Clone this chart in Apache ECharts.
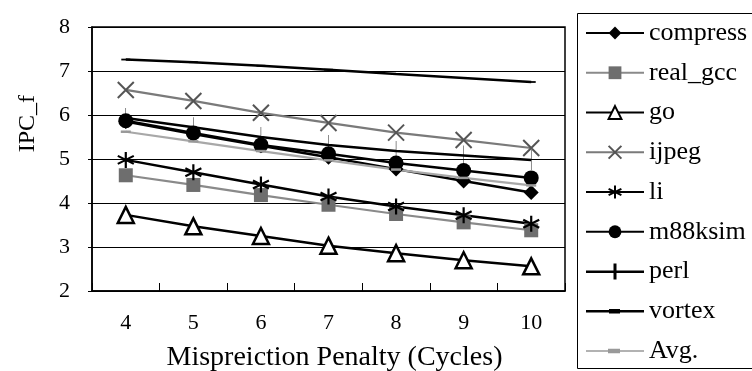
<!DOCTYPE html>
<html>
<head>
<meta charset="utf-8">
<script src="https://cdn.jsdelivr.net/npm/echarts@6/dist/echarts.min.js"></script>
<style>html,body{margin:0;padding:0;background:#fff}#c{width:752px;height:371px}</style>
</head>
<body>
<div id="c"></div>
<script>
var categories = ['4','5','6','7','8','9','10'];
var compress = [5.85, 5.57, 5.30, 5.04, 4.77, 4.50, 4.24];
var real_gcc = [4.63, 4.41, 4.18, 3.96, 3.75, 3.56, 3.38];
var go = [3.73, 3.47, 3.25, 3.03, 2.86, 2.70, 2.56];
var ijpeg = [6.57, 6.32, 6.05, 5.82, 5.60, 5.43, 5.25];
var li = [4.98, 4.70, 4.42, 4.15, 3.92, 3.72, 3.53];
var m88ksim = [5.87, 5.59, 5.32, 5.12, 4.91, 4.74, 4.57];
var perl = [5.93, 5.72, 5.50, 5.32, 5.18, 5.08, 4.98];
var vortex = [7.26, 7.20, 7.12, 7.03, 6.93, 6.84, 6.75];
var avg = [5.62, 5.40, 5.18, 4.97, 4.76, 4.57, 4.40];
var seriesNames = ['compress','real_gcc','go','ijpeg','li','m88ksim','perl','vortex','Avg.'];
var yTicks = [2,3,4,5,6,7,8];

var FONT = 'Liberation Serif';
var chart = echarts.init(document.getElementById('c'), null, {renderer:'canvas'});

function s(name, data, lineColor, lineWidth, symbol, size, item, extra){
  var o = {
    name: name, type: 'line', data: data,
    symbol: symbol, symbolSize: size,
    lineStyle: {color: lineColor, width: lineWidth},
    itemStyle: item,
    emphasis: {disabled: true},
    animation: false
  };
  if (extra) for (var k in extra) o[k] = extra[k];
  return o;
}

var legendData = seriesNames.map(function(n){
  if (n === 'perl') return {name: n, icon: 'path://M0 7L58 7L58 9.5L0 9.5ZM27.5 0L30.5 0L30.5 16L27.5 16Z'};
  if (n === 'vortex') return {name: n, icon: 'path://M0 0L58 0L58 2.6L0 2.6ZM23 -1L34 -1L34 3.6L23 3.6Z'};
  if (n === 'Avg.') return {name: n, icon: 'path://M0 0L58 0L58 1.6L0 1.6ZM22 -1.5L34 -1.5L34 3.1L22 3.1Z'};
  return n;
});

var option = {
  backgroundColor: '#fff',
  animation: false,
  grid: {left: 92, right: 187, top: 27, bottom: 80, show: true, borderColor: '#000', borderWidth: 1.5,
         containLabel: false, outerBoundsMode: 'none'},
  xAxis: {
    type: 'category', data: categories, boundaryGap: true,
    name: 'Mispreiction Penalty (Cycles)', nameLocation: 'middle', nameGap: 53,
    nameTextStyle: {fontFamily: FONT, fontSize: 28, color: '#000', padding: [0, 0, 0, 12]},
    axisLine: {lineStyle: {color: '#000', width: 1.5}},
    axisTick: {show: true, inside: true, length: 8, lineStyle: {color: '#000'}},
    axisLabel: {fontFamily: FONT, fontSize: 22, color: '#000', margin: 21},
    splitLine: {show: false}
  },
  yAxis: {
    type: 'value', min: 2, max: 8, interval: 1,
    axisLine: {show: true, lineStyle: {color: '#000', width: 1.5}},
    axisTick: {show: true, length: 4, lineStyle: {color: '#000'}},
    axisLabel: {fontFamily: FONT, fontSize: 22, color: '#000', margin: 22,
      formatter: function(v){ return yTicks.indexOf(v) >= 0 ? String(v) : ''; }},
    splitLine: {show: true, lineStyle: {color: '#000', width: 1}}
  },
  legend: {
    orient: 'vertical', left: 575, top: 11, height: 400,
    data: legendData,
    itemWidth: 58, itemHeight: 16, itemGap: 13.75,
    padding: [9, 60, 2, 10],
    borderWidth: 0,
    textStyle: {fontFamily: FONT, fontSize: 26, color: '#000'},
    selectedMode: false
  },
  graphic: [{
    type: 'text', left: 16, top: 95, rotation: Math.PI/2,
    style: {text: 'IPC_f', font: '24px "Liberation Serif"', fill: '#000'}
  }, {
    type: 'rect', left: 575, top: 11, silent: true,
    shape: {width: 220, height: 355},
    style: {fill: 'none', stroke: '#000', lineWidth: 1}
  }],
  series: [
    s('compress', compress, '#000', 2.5, 'diamond', 15, {color: '#000'}),
    s('real_gcc', real_gcc, '#8a8a8a', 2.2, 'rect', 14, {color: '#6e6e6e'}),
    s('go', go, '#000', 2.5, 'triangle', 16, {color: '#fff', borderColor: '#000', borderWidth: 2.5}),
    s('ijpeg', ijpeg, '#7a7a7a', 2.2, 'path://M0 0L10 10M10 0L0 10', 16, {color: '#fff', borderColor: '#555', borderWidth: 2}),
    s('li', li, '#000', 2.5, 'path://M5 0L5 10M0.7 2.5L9.3 7.5M0.7 7.5L9.3 2.5', 16, {color: '#fff', borderColor: '#000', borderWidth: 2.2}),
    s('m88ksim', m88ksim, '#000', 2.5, 'circle', 15, {color: '#000'}),
    s('perl', perl, '#000', 2.5, 'path://M0 0L3 0L3 20L0 20Z', [3, 20], {color: '#000'}, {symbolKeepAspect: true}),
    s('vortex', vortex, '#000', 2.5, 'path://M0 0L9 0L9 4L0 4Z', [9, 4], {color: '#000'}, {symbolKeepAspect: true}),
    s('Avg.', avg, '#a8a8a8', 2.2, 'path://M0 0L10 0L10 5L0 5Z', [10, 5], {color: '#999'}, {symbolKeepAspect: true})
  ]
};
chart.setOption(option);
</script>
</body>
</html>
